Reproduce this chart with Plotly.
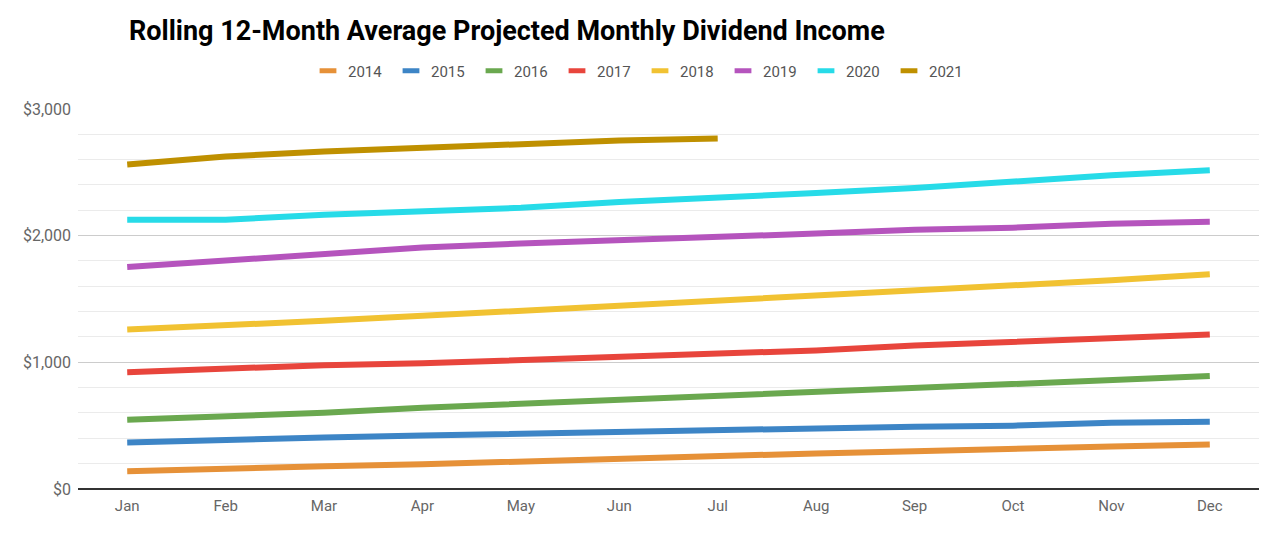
import plotly.graph_objects as go

months = ["Jan", "Feb", "Mar", "Apr", "May", "Jun", "Jul", "Aug", "Sep", "Oct", "Nov", "Dec"]
years = ["2014", "2015", "2016", "2017", "2018", "2019", "2020", "2021"]

v2014 = [141, 164, 180, 195, 219, 242, 266, 281, 297, 320, 336, 352]
v2015 = [367, 391, 406, 422, 438, 453, 461, 477, 492, 500, 523, 531]
v2016 = [547, 570, 602, 641, 672, 703, 734, 766, 797, 828, 852, 891]
v2017 = [922, 953, 977, 992, 1016, 1039, 1063, 1094, 1133, 1164, 1195, 1219]
v2018 = [1258, 1289, 1328, 1367, 1406, 1445, 1484, 1523, 1563, 1602, 1648, 1695]
v2019 = [1752, 1805, 1859, 1906, 1937, 1961, 1984, 2016, 2047, 2062, 2094, 2109]
v2020 = [2125, 2125, 2164, 2195, 2219, 2266, 2297, 2336, 2375, 2430, 2477, 2516]
v2021 = [2562, 2625, 2664, 2695, 2727, 2750, 2766]

series = [v2014, v2015, v2016, v2017, v2018, v2019, v2020, v2021]
colors = ["#e69138", "#3d85c6", "#6aa84f", "#e8453c", "#f1c232", "#b554bd", "#27dbe8", "#bf9000"]

y_ticks = [0, 1000, 2000, 3000]
y_labels = ["$0", "$1,000", "$2,000", "$3,000"]

fig = go.Figure()
for name, vals, col in zip(years, series, colors):
    fig.add_trace(go.Scatter(
        x=months[:len(vals)], y=vals, mode="lines", name=name,
        line=dict(color=col, width=6), showlegend=False, hoverinfo="skip",
    ))
for name, col in zip(years, colors):
    fig.add_trace(go.Scatter(
        x=[None], y=[None], mode="markers", name=name,
        marker=dict(symbol="line-ew", size=12, color=col, line=dict(color=col, width=6)),
        showlegend=True,
    ))

fig.update_layout(
    width=1280, height=536,
    paper_bgcolor="white", plot_bgcolor="white",
    margin=dict(l=78, r=21, t=105, b=47),
    font=dict(family="Roboto, Arial, sans-serif", color="#666666", size=14),
    title=dict(
        text="<b>Rolling 12-Month Average Projected Monthly Dividend Income</b>",
        x=129 / 1280, xanchor="left", xref="container",
        y=1 - 31 / 536, yanchor="middle", yref="container",
        font=dict(family="Roboto, Arial, sans-serif", size=27, color="#000000"),
    ),
    legend=dict(
        orientation="h", x=0.5, xanchor="center", xref="container",
        y=1 - 71 / 536, yanchor="middle", yref="container",
        font=dict(size=15, color="#555555"),
        entrywidth=38, entrywidthmode="pixels",
        itemwidth=30, traceorder="normal",
    ),
    xaxis=dict(
        type="category", categoryorder="array", categoryarray=months,
        range=[-0.5, 11.5], showgrid=False, zeroline=False,
        showline=False, ticks="", tickfont=dict(size=15, color="#666666"),
        ticklabelstandoff=6,
    ),
    yaxis=dict(
        range=[0, 3000], tickvals=y_ticks, ticktext=y_labels,
        showgrid=True, gridcolor="#cccccc", gridwidth=1,
        zeroline=True, zerolinecolor="#333333", zerolinewidth=2,
        showline=False, ticks="", tickfont=dict(size=16, color="#666666"),
        ticklabelstandoff=6,
        minor=dict(dtick=200, tick0=0, showgrid=True, gridcolor="#ebebeb", gridwidth=1),
    ),
)

fig.write_html("out.html", post_script="document.body.style.margin='0';",
               config={"displayModeBar": False})
